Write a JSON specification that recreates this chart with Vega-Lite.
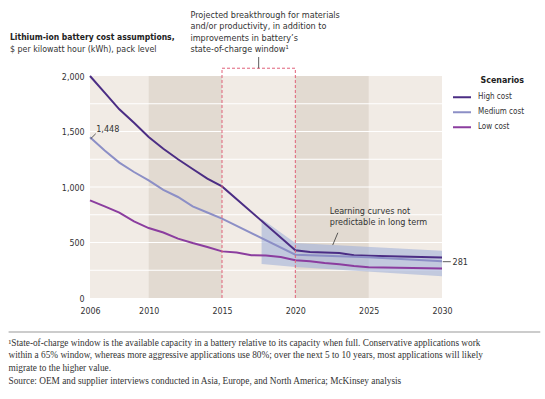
{
  "$schema": "https://vega.github.io/schema/vega-lite/v6.json",
  "width": 352,
  "height": 222,
  "autosize": {"type": "none"},
  "padding": {"left": 90, "top": 76, "right": 103, "bottom": 101},
  "background": "#ffffff",
  "view": {"fill": "#f1ebe5", "stroke": null},
  "title": {
    "text": "Lithium-ion battery cost assumptions,",
    "subtitle": "$ per kilowatt hour (kWh), pack level",
    "anchor": "start",
    "frame": "group",
    "dx": -80,
    "offset": -43,
    "font": "DejaVu Sans Condensed",
    "fontSize": 8.5,
    "fontWeight": "bold",
    "color": "#222222",
    "subtitleFont": "DejaVu Sans Condensed",
    "subtitleFontSize": 8.8,
    "subtitleColor": "#333333",
    "subtitlePadding": 3
  },
  "config": {
    "font": "DejaVu Sans Condensed",
    "text": {"font": "DejaVu Sans Condensed"},
    "axisY": {"labelOverlap": false, "format": ",d", "ticks": false, "domain": false, "grid": false, "labelPadding": 6, "labelFontSize": 8.8, "labelColor": "#333333"},
    "axisX": {"labelOverlap": false, "ticks": false, "domain": false, "grid": false, "labelFlush": false, "labelPadding": 8, "labelFontSize": 8.8, "labelColor": "#333333"}
  },
  "datasets": {
    "bands": [
      {"start": 2010, "end": 2015},
      {"start": 2020, "end": 2025}
    ],
    "grid": [
      {"value": 250}, {"value": 500}, {"value": 750}, {"value": 1000},
      {"value": 1250}, {"value": 1500}, {"value": 1750}
    ],
    "range": [
      {"year": 2017.7, "top": 715, "bottom": 306},
      {"year": 2020, "top": 495, "bottom": 280},
      {"year": 2030, "top": 425, "bottom": 195}
    ],
    "costs": [
      {"year": 2006, "cost": 2000, "scenario": "High cost"},
      {"year": 2007, "cost": 1850, "scenario": "High cost"},
      {"year": 2008, "cost": 1700, "scenario": "High cost"},
      {"year": 2009, "cost": 1578, "scenario": "High cost"},
      {"year": 2010, "cost": 1450, "scenario": "High cost"},
      {"year": 2011, "cost": 1345, "scenario": "High cost"},
      {"year": 2012, "cost": 1250, "scenario": "High cost"},
      {"year": 2013, "cost": 1162, "scenario": "High cost"},
      {"year": 2014, "cost": 1075, "scenario": "High cost"},
      {"year": 2015, "cost": 1005, "scenario": "High cost"},
      {"year": 2020, "cost": 430, "scenario": "High cost"},
      {"year": 2021, "cost": 415, "scenario": "High cost"},
      {"year": 2022, "cost": 410, "scenario": "High cost"},
      {"year": 2023, "cost": 405, "scenario": "High cost"},
      {"year": 2024, "cost": 385, "scenario": "High cost"},
      {"year": 2025, "cost": 380, "scenario": "High cost"},
      {"year": 2030, "cost": 365, "scenario": "High cost"},
      {"year": 2006, "cost": 1448, "scenario": "Medium cost"},
      {"year": 2007, "cost": 1328, "scenario": "Medium cost"},
      {"year": 2008, "cost": 1220, "scenario": "Medium cost"},
      {"year": 2009, "cost": 1135, "scenario": "Medium cost"},
      {"year": 2010, "cost": 1060, "scenario": "Medium cost"},
      {"year": 2011, "cost": 975, "scenario": "Medium cost"},
      {"year": 2012, "cost": 910, "scenario": "Medium cost"},
      {"year": 2013, "cost": 825, "scenario": "Medium cost"},
      {"year": 2014, "cost": 770, "scenario": "Medium cost"},
      {"year": 2015, "cost": 715, "scenario": "Medium cost"},
      {"year": 2020, "cost": 390, "scenario": "Medium cost"},
      {"year": 2025, "cost": 368, "scenario": "Medium cost"},
      {"year": 2030, "cost": 330, "scenario": "Medium cost"},
      {"year": 2006, "cost": 880, "scenario": "Low cost"},
      {"year": 2007, "cost": 825, "scenario": "Low cost"},
      {"year": 2008, "cost": 770, "scenario": "Low cost"},
      {"year": 2009, "cost": 690, "scenario": "Low cost"},
      {"year": 2010, "cost": 630, "scenario": "Low cost"},
      {"year": 2011, "cost": 590, "scenario": "Low cost"},
      {"year": 2012, "cost": 535, "scenario": "Low cost"},
      {"year": 2013, "cost": 495, "scenario": "Low cost"},
      {"year": 2014, "cost": 460, "scenario": "Low cost"},
      {"year": 2015, "cost": 420, "scenario": "Low cost"},
      {"year": 2016, "cost": 410, "scenario": "Low cost"},
      {"year": 2017, "cost": 385, "scenario": "Low cost"},
      {"year": 2018, "cost": 383, "scenario": "Low cost"},
      {"year": 2019, "cost": 370, "scenario": "Low cost"},
      {"year": 2020, "cost": 340, "scenario": "Low cost"},
      {"year": 2021, "cost": 330, "scenario": "Low cost"},
      {"year": 2022, "cost": 315, "scenario": "Low cost"},
      {"year": 2023, "cost": 305, "scenario": "Low cost"},
      {"year": 2024, "cost": 288, "scenario": "Low cost"},
      {"year": 2025, "cost": 278, "scenario": "Low cost"},
      {"year": 2030, "cost": 265, "scenario": "Low cost"}
    ],
    "window": [
      {"x": 2015, "y": 0, "x2": 2015, "y2": 2070},
      {"x": 2020, "y": 0, "x2": 2020, "y2": 2070},
      {"x": 2015, "y": 2070, "x2": 2020, "y2": 2070}
    ],
    "leaders": [
      {"x": 2017.5, "y": 2070, "x2": 2017.5, "y2": 2171},
      {"x": 2006.05, "y": 1435, "x2": 2006.39, "y2": 1480},
      {"x": 2022.55, "y": 477, "x2": 2022.9, "y2": 588},
      {"x": 2030.05, "y": 327, "x2": 2030.6, "y2": 327}
    ],
    "separator": [
      {"x": 2000.45, "x2": 2036.7, "y": -306}
    ],
    "notesTop": [
      {"x": 2012.85, "y": 2590, "label": ["Projected breakthrough for materials", "and/or productivity, in addition to", "improvements in battery’s", "state-of-charge window¹"]},
      {"x": 2022.35, "y": 822, "label": ["Learning curves not", "predictable in long term"]}
    ],
    "notesMid": [
      {"x": 2006.42, "y": 1522, "label": "1,448"},
      {"x": 2030.72, "y": 327, "label": "281"}
    ]
  },
  "layer": [
    {
      "data": {"name": "bands"},
      "mark": {"type": "rect", "fill": "#e2dad1"},
      "encoding": {
        "x": {"field": "start", "type": "quantitative", "scale": {"domain": [2006, 2030], "nice": false, "zero": false}},
        "x2": {"field": "end"}
      }
    },
    {
      "data": {"name": "grid"},
      "mark": {"type": "rule", "color": "#ffffff", "strokeWidth": 1},
      "encoding": {
        "y": {
          "field": "value", "type": "quantitative",
          "scale": {"domain": [0, 2000], "nice": false},
          "axis": {"values": [0, 250, 500, 750, 1000, 1250, 1500, 1750, 2000], "labelOverlap": false, "format": ",d", "title": null}
        }
      }
    },
    {
      "data": {"name": "range"},
      "mark": {"type": "area", "color": "#a3b2d8", "opacity": 0.6},
      "encoding": {
        "x": {"field": "year", "type": "quantitative", "scale": {"domain": [2006, 2030], "nice": false, "zero": false}},
        "y": {"field": "top", "type": "quantitative", "scale": {"domain": [0, 2000], "nice": false}, "axis": {"values": [0, 250, 500, 750, 1000, 1250, 1500, 1750, 2000], "labelOverlap": false, "title": null}},
        "y2": {"field": "bottom"}
      }
    },
    {
      "data": {"name": "costs"},
      "mark": {"type": "line", "strokeWidth": 2},
      "encoding": {
        "x": {
          "field": "year", "type": "quantitative",
          "scale": {"domain": [2006, 2030], "nice": false, "zero": false},
          "axis": {
            "values": [2006, 2010, 2015, 2020, 2025, 2030],
            "format": "d",
            "title": [
              "¹State-of-charge window is the available capacity in a battery relative to its capacity when full. Conservative applications work",
              "\u00a0\u00a0within a 65% window, whereas more aggressive applications use 80%; over the next 5 to 10 years, most applications will likely",
              "\u00a0\u00a0migrate to the higher value.",
              "Source: OEM and supplier interviews conducted in Asia, Europe, and North America; McKinsey analysis"
            ],
            "titleFont": "Liberation Serif",
            "titleFontSize": 9.3,
            "titleFontWeight": "normal",
            "titleColor": "#333333",
            "titleAlign": "left",
            "titleAnchor": "start",
            "titleBaseline": "top",
            "titleLineHeight": 12.8,
            "titleX": -82,
            "titleY": 40
          }
        },
        "y": {
          "field": "cost", "type": "quantitative",
          "scale": {"domain": [0, 2000], "nice": false},
          "axis": {
            "values": [0, 250, 500, 750, 1000, 1250, 1500, 1750, 2000],
            "labelOverlap": false,
            "format": ",d",
            "title": null
          }
        },
        "color": {
          "field": "scenario", "type": "nominal",
          "scale": {"domain": ["High cost", "Medium cost", "Low cost"], "range": ["#4b2d84", "#8c8fc6", "#8b3d9f"]},
          "legend": {
            "title": "Scenarios",
            "orient": "none",
            "legendX": 362,
            "legendY": 0,
            "symbolType": "stroke",
            "symbolSize": 324,
            "symbolStrokeWidth": 2,
            "labelOffset": 6,
            "labelFontSize": 8,
            "labelColor": "#333333",
            "titleFontSize": 8.8,
            "titleFontWeight": "bold",
            "titleColor": "#222222",
            "titleAnchor": "end",
            "titlePadding": 6,
            "clipHeight": 12.8,
            "rowPadding": 2
          }
        }
      }
    },
    {
      "data": {"name": "window"},
      "mark": {"type": "rule", "stroke": "#e0627a", "strokeWidth": 1, "strokeDash": [3, 2]},
      "encoding": {
        "x": {"field": "x", "type": "quantitative", "scale": {"domain": [2006, 2030], "nice": false, "zero": false}},
        "x2": {"field": "x2"},
        "y": {"field": "y", "type": "quantitative", "scale": {"domain": [0, 2000], "nice": false}},
        "y2": {"field": "y2"}
      }
    },
    {
      "data": {"name": "leaders"},
      "mark": {"type": "rule", "color": "#333333", "strokeWidth": 0.8},
      "encoding": {
        "x": {"field": "x", "type": "quantitative", "scale": {"domain": [2006, 2030], "nice": false, "zero": false}},
        "x2": {"field": "x2"},
        "y": {"field": "y", "type": "quantitative", "scale": {"domain": [0, 2000], "nice": false}},
        "y2": {"field": "y2"}
      }
    },
    {
      "data": {"name": "separator"},
      "mark": {"type": "rule", "color": "#cccccc", "strokeWidth": 2},
      "encoding": {
        "x": {"field": "x", "type": "quantitative", "scale": {"domain": [2006, 2030], "nice": false, "zero": false}},
        "x2": {"field": "x2"},
        "y": {"field": "y", "type": "quantitative", "scale": {"domain": [0, 2000], "nice": false}}
      }
    },
    {
      "data": {"name": "notesTop"},
      "mark": {"type": "text", "align": "left", "baseline": "top", "fontSize": 9, "lineHeight": 11.5, "color": "#333333"},
      "encoding": {
        "x": {"field": "x", "type": "quantitative", "scale": {"domain": [2006, 2030], "nice": false, "zero": false}},
        "y": {"field": "y", "type": "quantitative", "scale": {"domain": [0, 2000], "nice": false}},
        "text": {"field": "label"}
      }
    },
    {
      "data": {"name": "notesMid"},
      "mark": {"type": "text", "align": "left", "baseline": "middle", "fontSize": 9, "color": "#333333"},
      "encoding": {
        "x": {"field": "x", "type": "quantitative", "scale": {"domain": [2006, 2030], "nice": false, "zero": false}},
        "y": {"field": "y", "type": "quantitative", "scale": {"domain": [0, 2000], "nice": false}},
        "text": {"field": "label"}
      }
    }
  ]
}
